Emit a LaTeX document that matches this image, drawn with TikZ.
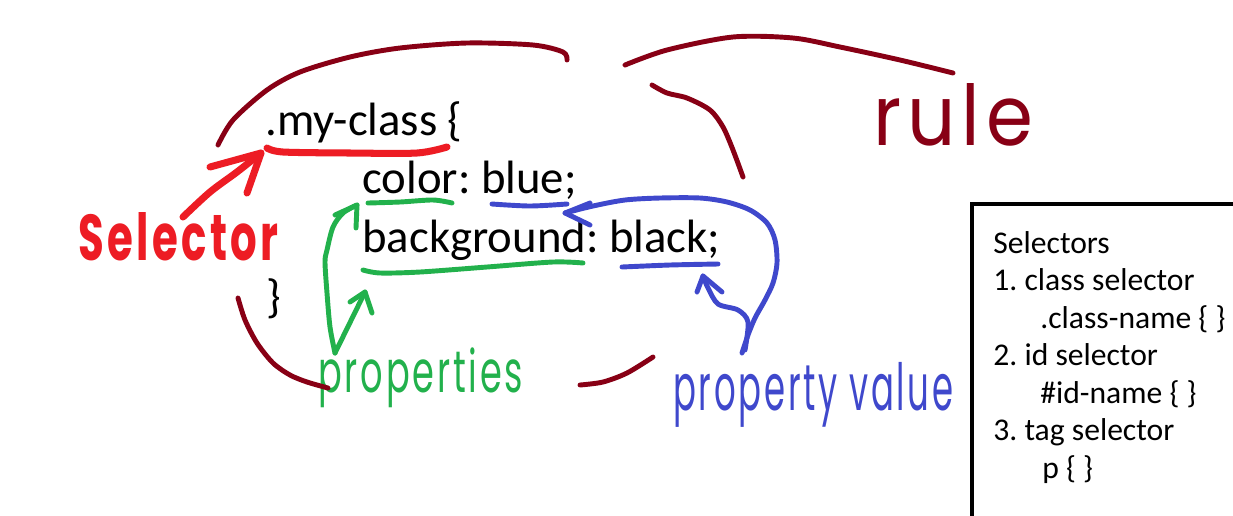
\documentclass[tikz,border=0pt]{standalone}
\usepackage{fontspec}
\usepackage{graphicx}
\setmainfont{Carlito}
\newfontfamily\hand[LetterSpace=8]{Poppins}
\frenchspacing
\definecolor{dred}{HTML}{880015}
\definecolor{pred}{HTML}{ED1C24}
\definecolor{pgreen}{HTML}{22B14C}
\definecolor{pblue}{HTML}{3F48CC}
\tikzset{
  code/.style={anchor=base west, inner sep=0pt, font=\fontsize{26.6pt}{32pt}\selectfont},
  boxtxt/.style={anchor=base west, inner sep=0pt, font=\fontsize{18pt}{22pt}\selectfont},
  handtxt/.style={anchor=base west, inner sep=0pt, font=\hand},
  pen/.style={line width=2.8pt, line cap=round, line join=round},
  drpen/.style={pen, draw=dred},
  redpen/.style={pen, draw=pred, line width=4pt},
  grpen/.style={pen, draw=pgreen},
  blpen/.style={pen, draw=pblue},
}
\begin{document}
\begin{tikzpicture}[x=0.02cm, y=-0.02cm]
\useasboundingbox (0,0) rectangle (1233,515);
\clip (0,0) rectangle (1233,515);
\fill[white] (0,0) rectangle (1233,515);

% code text
\node[code] (selname) at (265,135) {.my-class \{};
\node[code] (line1) at (362,193) {color: blue;};
\node[code] (line2) at (362,252) {background: black;};
\node[code] (close) at (266,312) {\}};

% handwritten labels
\node[handtxt, text=pred] (lsel) at (78,260) {\resizebox{4cm}{0.96cm}{\bfseries Selector}};
\node[handtxt, text=dred] (lrule) at (873,145) {\resizebox{3.2cm}{1.24cm}{rule}};
\node[handtxt, text=pgreen] (lprop) at (318,392) {\resizebox*{4.1cm}{1.2cm}{properties}};
\node[handtxt, text=pblue] (lval) at (673,410) {\resizebox*{5.6cm}{1.3cm}{property value}};

% dark red rule brackets
\draw[drpen] plot[smooth] coordinates {(218,145) (233,120) (267,90) (300,72) (350,57) (400,48) (467,43) (533,45) (563,52) (567,60)};
\draw[drpen] plot[smooth] coordinates {(625,65) (667,50) (733,37) (793,38) (840,47) (900,60) (953,73)};
\draw[drpen] plot[smooth] coordinates {(652,85) (667,93) (687,98) (710,110) (723,127) (733,150) (743,177)};
\draw[drpen] plot[smooth] coordinates {(238,298) (245,320) (257,343) (273,363) (290,375) (307,382) (328,388)};
\draw[drpen] plot[smooth] coordinates {(580,385) (603,382) (627,373) (653,357)};

% red selector
\draw[redpen] plot[smooth] coordinates {(267,148) (283,152) (350,153) (417,153) (447,147)};
\draw[redpen] plot[smooth] coordinates {(183,217) (210,192) (237,172) (261,153)};
\draw[redpen] (210,167) -- (261,153) -- (247,193);

% green properties
\draw[grpen] plot[smooth] coordinates {(368,203) (400,202) (433,200) (452,203)};
\draw[grpen] plot[smooth] coordinates {(363,270) (380,273) (420,272) (487,267) (553,262) (583,263)};
\draw[grpen] plot[smooth] coordinates {(335,353) (330,327) (327,293) (325,262) (327,250) (333,227) (343,213) (357,205)};
\draw[grpen] (335,215) -- (357,205) -- (356,228);
\draw[grpen] (335,353) -- (365,292);
\draw[grpen] (350,302) -- (365,292) -- (372,313);

% blue values
\draw[blpen] plot[smooth] coordinates {(492,204) (530,206) (567,204)};
\draw[blpen] plot[smooth] coordinates {(622,267) (670,265) (718,264)};
\draw[blpen] plot[smooth] coordinates {(565,213) (593,206) (625,200) (660,198) (700,198) (727,202) (750,210) (767,223) (775,240) (777,263) (773,283) (765,300) (755,318) (748,335) (742,353)};
\draw[blpen] (590,203) -- (565,213) -- (590,225);
\draw[blpen] plot[smooth] coordinates {(745,350) (748,322) (738,310) (718,304) (708,288) (703,276)};
\draw[blpen] (697,292) -- (703,276) -- (722,292);

% selectors box
\draw[line width=2.8pt] (972,530) -- (972,204) -- (1250,204);
\node[boxtxt] (b0) at (993,253) {Selectors};
\node[boxtxt] (b1) at (993,290.5) {1. class selector};
\node[boxtxt] (b2) at (1040,328) {.class-name \{ \}};
\node[boxtxt] (b3) at (993,365.5) {2. id selector};
\node[boxtxt] (b4) at (1040,403) {\#id-name \{ \}};
\node[boxtxt] (b5) at (993,440.5) {3. tag selector};
\node[boxtxt] (b6) at (1042,478) {p \{ \}};
\end{tikzpicture}
\end{document}
